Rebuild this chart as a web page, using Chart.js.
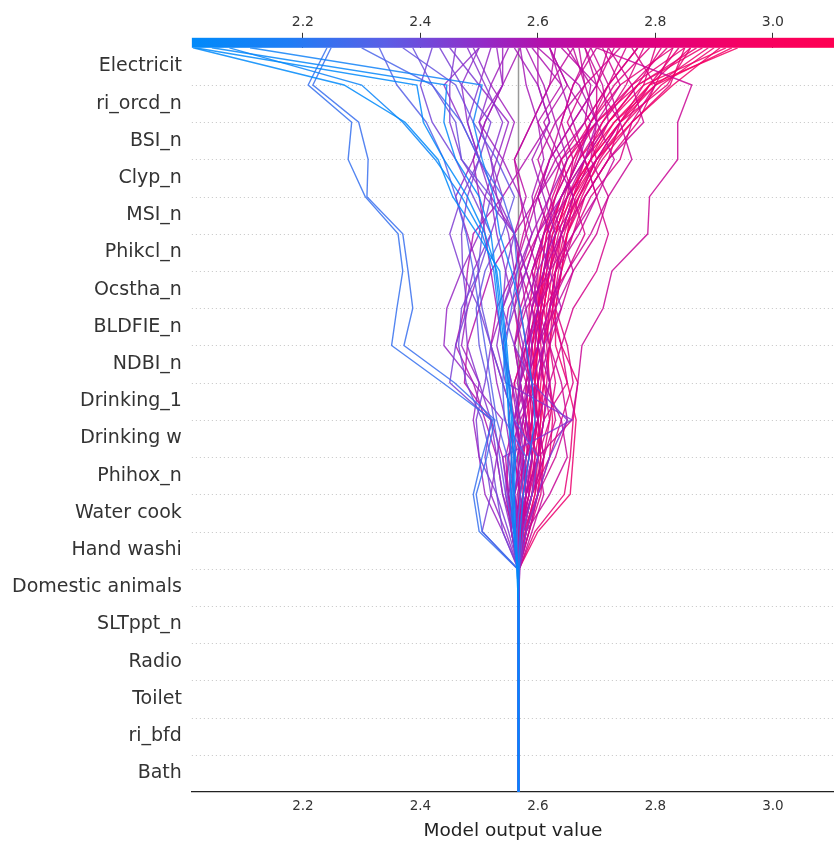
<!DOCTYPE html>
<html>
<head>
<meta charset="utf-8">
<script src="https://cdn.jsdelivr.net/npm/chart.js@4.4.1/dist/chart.umd.min.js"></script>
<style>
html, body { margin: 0; padding: 0; background: #fff; }
canvas { display: block; }
</style>
</head>
<body>
<canvas id="myChart" width="834" height="841"></canvas>
<script>
// feature rows, bottom row first
var features = ["Bath", "ri_bfd", "Toilet", "Radio", "SLTppt_n", "Domestic animals", "Hand washi",
  "Water cook", "Phihox_n", "Drinking w", "Drinking_1", "NDBI_n", "BLDFIE_n", "Ocstha_n",
  "Phikcl_n", "MSI_n", "Clyp_n", "BSI_n", "ri_orcd_n", "Electricit"];
var baseValue = 2.567;
var xTicks = [2.2, 2.4, 2.6, 2.8, 3.0];
var xMin = 2.011, xMax = 3.104;

// cumulative output at every row boundary: index 0 = base (bottom), 20 = final (top)
var paths = [
  [2.567,2.567,2.567,2.567,2.567,2.567,2.565,2.562,2.560,2.562,2.557,2.552,2.547,2.540,2.535,2.497,2.455,2.430,2.374,2.270,2.013],
  [2.567,2.567,2.567,2.567,2.567,2.567,2.566,2.560,2.556,2.558,2.555,2.550,2.545,2.538,2.530,2.510,2.480,2.440,2.405,2.394,2.016],
  [2.567,2.567,2.567,2.567,2.567,2.567,2.564,2.558,2.553,2.555,2.550,2.548,2.543,2.535,2.528,2.520,2.500,2.460,2.440,2.445,2.045],
  [2.567,2.567,2.567,2.567,2.567,2.567,2.566,2.562,2.558,2.560,2.552,2.546,2.540,2.532,2.525,2.505,2.470,2.425,2.370,2.300,2.075],
  [2.567,2.567,2.567,2.567,2.567,2.567,2.568,2.570,2.575,2.585,2.595,2.590,2.580,2.570,2.555,2.535,2.525,2.505,2.490,2.505,2.110],
  [2.567,2.567,2.567,2.567,2.567,2.567,2.565,2.500,2.490,2.505,2.523,2.438,2.351,2.360,2.370,2.362,2.306,2.277,2.283,2.209,2.241],
  [2.567,2.567,2.567,2.567,2.567,2.567,2.566,2.505,2.495,2.513,2.527,2.458,2.372,2.387,2.379,2.370,2.309,2.311,2.295,2.217,2.248],
  [2.567,2.567,2.567,2.567,2.567,2.567,2.567,2.565,2.570,2.580,2.543,2.540,2.545,2.555,2.565,2.560,2.540,2.500,2.470,2.420,2.300],
  [2.567,2.567,2.567,2.567,2.567,2.567,2.566,2.560,2.555,2.548,2.530,2.520,2.510,2.500,2.490,2.478,2.460,2.440,2.410,2.360,2.330],
  [2.567,2.567,2.567,2.567,2.567,2.567,2.568,2.575,2.590,2.600,2.560,2.540,2.520,2.505,2.498,2.505,2.520,2.470,2.460,2.420,2.387],
  [2.567,2.567,2.567,2.567,2.567,2.567,2.565,2.505,2.520,2.510,2.520,2.450,2.460,2.480,2.472,2.470,2.480,2.500,2.520,2.470,2.433],
  [2.567,2.567,2.567,2.567,2.567,2.567,2.567,2.540,2.530,2.520,2.505,2.478,2.465,2.470,2.500,2.520,2.490,2.460,2.420,2.400,2.420],
  [2.567,2.567,2.567,2.567,2.567,2.567,2.569,2.580,2.600,2.620,2.650,2.590,2.560,2.540,2.545,2.560,2.510,2.470,2.450,2.450,2.460],
  [2.567,2.567,2.567,2.567,2.567,2.567,2.566,2.555,2.540,2.530,2.520,2.500,2.480,2.475,2.490,2.520,2.540,2.520,2.540,2.510,2.480],
  [2.567,2.567,2.567,2.567,2.567,2.567,2.568,2.565,2.560,2.575,2.570,2.555,2.540,2.560,2.580,2.560,2.530,2.500,2.480,2.470,2.500],
  [2.567,2.567,2.567,2.567,2.567,2.567,2.567,2.545,2.520,2.530,2.540,2.490,2.440,2.445,2.470,2.500,2.510,2.530,2.550,2.500,2.520],
  [2.567,2.567,2.567,2.567,2.567,2.567,2.566,2.560,2.550,2.555,2.545,2.530,2.520,2.540,2.565,2.590,2.570,2.540,2.500,2.540,2.540],
  [2.567,2.567,2.567,2.567,2.567,2.567,2.568,2.570,2.560,2.550,2.560,2.570,2.585,2.600,2.580,2.560,2.520,2.540,2.560,2.520,2.550],
  [2.567,2.567,2.567,2.567,2.567,2.567,2.567,2.560,2.545,2.535,2.525,2.515,2.500,2.495,2.510,2.540,2.560,2.530,2.490,2.460,2.370],
  [2.567,2.567,2.567,2.567,2.567,2.567,2.567,2.565,2.580,2.572,2.560,2.550,2.540,2.530,2.520,2.510,2.500,2.490,2.510,2.540,2.570],
  [2.567,2.567,2.567,2.567,2.567,2.567,2.568,2.570,2.560,2.555,2.560,2.570,2.575,2.560,2.545,2.530,2.520,2.500,2.470,2.440,2.500],
  [2.567,2.567,2.567,2.567,2.567,2.567,2.567,2.555,2.548,2.540,2.658,2.545,2.530,2.540,2.560,2.550,2.530,2.520,2.500,2.520,2.490],
  [2.567,2.567,2.567,2.567,2.567,2.567,2.566,2.540,2.510,2.500,2.490,2.500,2.470,2.480,2.500,2.480,2.460,2.490,2.510,2.540,2.530],
  [2.567,2.567,2.567,2.567,2.567,2.567,2.567,2.550,2.530,2.500,2.495,2.510,2.520,2.500,2.470,2.450,2.470,2.500,2.480,2.500,2.450],
  [2.567,2.567,2.567,2.567,2.567,2.567,2.567,2.560,2.575,2.590,2.580,2.570,2.560,2.575,2.600,2.630,2.610,2.590,2.620,2.600,2.560],
  [2.567,2.567,2.567,2.567,2.567,2.567,2.568,2.575,2.570,2.565,2.575,2.585,2.590,2.580,2.570,2.590,2.620,2.650,2.630,2.610,2.580],
  [2.567,2.567,2.567,2.567,2.567,2.567,2.566,2.555,2.560,2.570,2.565,2.555,2.540,2.550,2.580,2.600,2.640,2.680,2.700,2.670,2.600],
  [2.567,2.567,2.567,2.567,2.567,2.567,2.567,2.565,2.580,2.600,2.610,2.620,2.600,2.590,2.610,2.640,2.660,2.630,2.600,2.640,2.620],
  [2.567,2.567,2.567,2.567,2.567,2.567,2.568,2.572,2.585,2.575,2.560,2.540,2.520,2.530,2.560,2.580,2.600,2.620,2.660,2.700,2.640],
  [2.567,2.567,2.567,2.567,2.567,2.567,2.567,2.560,2.550,2.545,2.560,2.580,2.600,2.620,2.640,2.620,2.600,2.630,2.680,2.690,2.650],
  [2.567,2.567,2.567,2.567,2.567,2.567,2.566,2.570,2.590,2.610,2.600,2.580,2.560,2.580,2.620,2.660,2.700,2.730,2.700,2.680,2.670],
  [2.567,2.567,2.567,2.567,2.567,2.567,2.569,2.590,2.610,2.600,2.580,2.570,2.590,2.610,2.590,2.610,2.650,2.680,2.720,2.710,2.680],
  [2.567,2.567,2.567,2.567,2.567,2.567,2.567,2.555,2.545,2.550,2.570,2.600,2.620,2.600,2.580,2.600,2.630,2.660,2.640,2.660,2.700],
  [2.567,2.567,2.567,2.567,2.567,2.567,2.568,2.575,2.600,2.630,2.650,2.640,2.620,2.640,2.660,2.700,2.720,2.690,2.700,2.740,2.710],
  [2.567,2.567,2.567,2.567,2.567,2.567,2.567,2.565,2.560,2.580,2.600,2.590,2.570,2.560,2.570,2.600,2.620,2.640,2.700,2.700,2.730],
  [2.567,2.567,2.567,2.567,2.567,2.567,2.566,2.560,2.570,2.560,2.550,2.560,2.580,2.610,2.650,2.680,2.660,2.640,2.680,2.720,2.750],
  [2.567,2.567,2.567,2.567,2.567,2.567,2.568,2.580,2.620,2.650,2.640,2.610,2.600,2.620,2.650,2.690,2.720,2.760,2.740,2.720,2.690],
  [2.567,2.567,2.567,2.567,2.567,2.567,2.567,2.568,2.585,2.600,2.658,2.668,2.675,2.711,2.726,2.787,2.790,2.838,2.838,2.862,2.700],
  [2.567,2.567,2.567,2.567,2.567,2.567,2.567,2.560,2.540,2.530,2.510,2.490,2.460,2.475,2.480,2.490,2.540,2.580,2.620,2.600,2.600],
  [2.567,2.567,2.567,2.567,2.567,2.567,2.566,2.560,2.550,2.540,2.520,2.475,2.480,2.500,2.520,2.560,2.600,2.640,2.610,2.650,2.620],
  [2.567,2.567,2.567,2.567,2.567,2.567,2.567,2.565,2.575,2.570,2.565,2.570,2.580,2.600,2.620,2.640,2.680,2.720,2.780,2.760,2.720],
  [2.567,2.567,2.567,2.567,2.567,2.567,2.568,2.575,2.590,2.610,2.630,2.620,2.640,2.660,2.700,2.720,2.700,2.680,2.650,2.680,2.740],
  [2.567,2.567,2.567,2.567,2.567,2.567,2.567,2.570,2.580,2.600,2.610,2.650,2.640,2.620,2.630,2.660,2.690,2.740,2.760,2.800,2.760],
  [2.567,2.567,2.567,2.567,2.567,2.567,2.566,2.562,2.568,2.585,2.600,2.590,2.580,2.590,2.600,2.580,2.570,2.560,2.590,2.620,2.660],
  [2.567,2.567,2.567,2.567,2.567,2.567,2.567,2.560,2.555,2.560,2.575,2.585,2.580,2.570,2.560,2.575,2.595,2.620,2.640,2.660,2.690],
  [2.567,2.567,2.567,2.567,2.567,2.567,2.567,2.575,2.560,2.570,2.590,2.600,2.610,2.600,2.590,2.610,2.640,2.670,2.690,2.650,2.620],
  [2.567,2.567,2.567,2.567,2.567,2.567,2.566,2.560,2.580,2.590,2.580,2.565,2.575,2.590,2.610,2.620,2.600,2.620,2.660,2.640,2.590],
  [2.567,2.567,2.567,2.567,2.567,2.567,2.568,2.585,2.600,2.590,2.575,2.580,2.600,2.630,2.660,2.640,2.620,2.600,2.630,2.680,2.660],
  [2.567,2.567,2.567,2.567,2.567,2.567,2.567,2.570,2.590,2.620,2.640,2.660,2.650,2.630,2.610,2.630,2.670,2.700,2.680,2.720,2.770],
  [2.567,2.567,2.567,2.567,2.567,2.567,2.566,2.555,2.550,2.565,2.580,2.570,2.560,2.570,2.590,2.620,2.650,2.700,2.740,2.700,2.720],
  [2.567,2.567,2.567,2.567,2.567,2.567,2.567,2.565,2.575,2.585,2.570,2.560,2.580,2.600,2.630,2.670,2.700,2.680,2.660,2.700,2.680],
  [2.567,2.567,2.567,2.567,2.567,2.567,2.568,2.580,2.570,2.560,2.565,2.590,2.610,2.640,2.620,2.600,2.590,2.610,2.600,2.580,2.570],
  [2.567,2.567,2.567,2.567,2.567,2.567,2.567,2.560,2.565,2.580,2.600,2.620,2.610,2.590,2.570,2.560,2.580,2.560,2.590,2.620,2.630],
  [2.567,2.567,2.567,2.567,2.567,2.567,2.567,2.575,2.590,2.600,2.610,2.600,2.590,2.600,2.610,2.620,2.640,2.680,2.730,2.790,2.940],
  [2.567,2.567,2.567,2.567,2.567,2.567,2.568,2.580,2.600,2.610,2.600,2.590,2.600,2.610,2.620,2.630,2.650,2.690,2.740,2.800,2.930],
  [2.567,2.567,2.567,2.567,2.567,2.567,2.566,2.570,2.585,2.590,2.585,2.580,2.585,2.595,2.605,2.615,2.640,2.670,2.720,2.780,2.920],
  [2.567,2.567,2.567,2.567,2.567,2.567,2.567,2.580,2.595,2.600,2.605,2.610,2.620,2.630,2.640,2.650,2.670,2.700,2.760,2.830,2.910],
  [2.567,2.567,2.567,2.567,2.567,2.567,2.567,2.565,2.575,2.585,2.590,2.595,2.600,2.605,2.610,2.625,2.660,2.700,2.750,2.810,2.900],
  [2.567,2.567,2.567,2.567,2.567,2.567,2.568,2.572,2.580,2.590,2.600,2.605,2.610,2.615,2.625,2.640,2.660,2.690,2.730,2.800,2.890],
  [2.567,2.567,2.567,2.567,2.567,2.567,2.568,2.600,2.655,2.660,2.665,2.650,2.630,2.630,2.640,2.650,2.660,2.690,2.720,2.770,2.880],
  [2.567,2.567,2.567,2.567,2.567,2.567,2.567,2.575,2.580,2.575,2.580,2.590,2.595,2.600,2.600,2.610,2.630,2.660,2.700,2.770,2.870],
  [2.567,2.567,2.567,2.567,2.567,2.567,2.566,2.560,2.570,2.580,2.590,2.595,2.590,2.600,2.615,2.630,2.650,2.690,2.740,2.820,2.860],
  [2.567,2.567,2.567,2.567,2.567,2.567,2.567,2.585,2.600,2.620,2.625,2.620,2.615,2.620,2.630,2.645,2.665,2.700,2.740,2.790,2.860],
  [2.567,2.567,2.567,2.567,2.567,2.567,2.567,2.578,2.595,2.605,2.600,2.595,2.600,2.610,2.620,2.640,2.670,2.710,2.760,2.825,2.850],
  [2.567,2.567,2.567,2.567,2.567,2.567,2.567,2.570,2.585,2.595,2.605,2.600,2.595,2.605,2.620,2.635,2.655,2.680,2.710,2.760,2.850],
  [2.567,2.567,2.567,2.567,2.567,2.567,2.568,2.595,2.645,2.655,2.660,2.668,2.640,2.625,2.635,2.650,2.675,2.705,2.750,2.790,2.840],
  [2.567,2.567,2.567,2.567,2.567,2.567,2.567,2.570,2.580,2.590,2.600,2.610,2.605,2.600,2.605,2.615,2.630,2.650,2.690,2.740,2.830],
  [2.567,2.567,2.567,2.567,2.567,2.567,2.566,2.575,2.590,2.600,2.610,2.615,2.620,2.625,2.630,2.650,2.680,2.720,2.770,2.800,2.830],
  [2.567,2.567,2.567,2.567,2.567,2.567,2.566,2.565,2.570,2.575,2.585,2.590,2.585,2.585,2.595,2.610,2.625,2.650,2.700,2.760,2.820],
  [2.567,2.567,2.567,2.567,2.567,2.567,2.567,2.580,2.600,2.605,2.595,2.600,2.610,2.620,2.630,2.640,2.660,2.680,2.720,2.770,2.810],
  [2.567,2.567,2.567,2.567,2.567,2.567,2.568,2.572,2.575,2.580,2.590,2.600,2.610,2.625,2.640,2.660,2.680,2.720,2.740,2.780,2.800],
  [2.567,2.567,2.567,2.567,2.567,2.567,2.567,2.585,2.605,2.610,2.620,2.630,2.620,2.610,2.620,2.630,2.650,2.660,2.690,2.730,2.790],
  [2.567,2.567,2.567,2.567,2.567,2.567,2.566,2.568,2.580,2.600,2.620,2.610,2.600,2.605,2.615,2.620,2.640,2.670,2.710,2.750,2.780],
  [2.567,2.567,2.567,2.567,2.567,2.567,2.567,2.575,2.590,2.595,2.590,2.585,2.590,2.600,2.610,2.625,2.645,2.665,2.690,2.720,2.770]
];

// shap-like red/blue colormap
var cmapStops = [
  [0.00, [0, 138, 250]],
  [0.15, [30, 125, 245]],
  [0.30, [90, 95, 230]],
  [0.45, [145, 45, 200]],
  [0.55, [180, 15, 170]],
  [0.70, [220, 0, 130]],
  [0.85, [245, 0, 100]],
  [1.00, [255, 0, 82]]
];

function cmap(t, alpha) {
  t = Math.max(0, Math.min(1, t));
  for (var k = 1; k < cmapStops.length; k++) {
    if (t <= cmapStops[k][0]) {
      var a = cmapStops[k - 1], b = cmapStops[k];
      var f = (t - a[0]) / (b[0] - a[0]);
      var c = a[1].map(function (v, j) { return Math.round(v + (b[1][j] - v) * f); });
      return "rgba(" + c[0] + "," + c[1] + "," + c[2] + "," + alpha + ")";
    }
  }
  return "rgba(255,0,82," + alpha + ")";
}

var datasets = paths.map(function (p) {
  var t = (p[p.length - 1] - xMin) / (xMax - xMin);
  return {
    data: p.map(function (v, i) { return { x: v, y: i }; }),
    borderColor: cmap(t, 0.85),
    borderWidth: 1.4,
    pointRadius: 0,
    showLine: true,
    fill: false
  };
});

var decor = {
  id: "decor",
  beforeDatasetsDraw: function (chart) {
    var ctx = chart.ctx, a = chart.chartArea, xs = chart.scales.x, ys = chart.scales.y;
    ctx.save();
    ctx.strokeStyle = "#c4c4c4";
    ctx.lineWidth = 1;
    ctx.setLineDash([1, 3]);
    for (var i = 1; i < features.length; i++) {
      var py = Math.round(ys.getPixelForValue(i)) + 0.5;
      ctx.beginPath();
      ctx.moveTo(a.left, py);
      ctx.lineTo(a.right, py);
      ctx.stroke();
    }
    ctx.setLineDash([]);
    ctx.strokeStyle = "#999999";
    ctx.lineWidth = 1.5;
    var bx = xs.getPixelForValue(baseValue);
    ctx.beginPath();
    ctx.moveTo(bx, a.top);
    ctx.lineTo(bx, a.bottom);
    ctx.stroke();
    ctx.restore();
  },
  afterDraw: function (chart) {
    // colour bar on top
    var ctx = chart.ctx, a = chart.chartArea;
    var g = ctx.createLinearGradient(a.left, 0, a.right, 0);
    cmapStops.forEach(function (s) { g.addColorStop(s[0], cmap(s[0], 1)); });
    ctx.save();
    ctx.fillStyle = g;
    ctx.fillRect(a.left, a.top - 10, a.right - a.left, 10);
    ctx.restore();
  }
};

Chart.defaults.font.family = "'DejaVu Sans', sans-serif";

new Chart("myChart", {
  type: "scatter",
  data: { datasets: datasets },
  plugins: [decor],
  options: {
    responsive: false,
    animation: false,
    devicePixelRatio: 1,
    layout: { padding: { top: 12, left: 2, right: 0, bottom: 0 } },
    plugins: { legend: { display: false }, tooltip: { enabled: false } },
    scales: {
      x: {
        type: "linear", position: "bottom", min: xMin, max: xMax,
        afterBuildTicks: function (s) { s.ticks = xTicks.map(function (v) { return { value: v }; }); },
        ticks: { callback: function (v) { return v.toFixed(1); }, color: "#333", font: { size: 13.5, lineHeight: 1 }, padding: 8 },
        grid: { display: false, drawTicks: false },
        border: { display: true, color: "#222", width: 1.2 },
        title: { display: true, text: "Model output value", color: "#222", font: { size: 18.5, lineHeight: 1 }, padding: { top: 0, bottom: 1 } }
      },
      xTop: {
        type: "linear", position: "top", min: xMin, max: xMax,
        afterBuildTicks: function (s) { s.ticks = xTicks.map(function (v) { return { value: v }; }); },
        ticks: { callback: function (v) { return v.toFixed(1); }, color: "#333", font: { size: 14 }, padding: 2 },
        grid: { drawOnChartArea: false, tickLength: 15, color: "#333" },
        border: { display: false }
      },
      y: {
        type: "linear", min: 0, max: 20,
        afterBuildTicks: function (s) { s.ticks = features.map(function (f, k) { return { value: k + 0.5 }; }); },
        ticks: { callback: function (v, i) { return features[i]; }, color: "#333", font: { size: 19 }, padding: 10, autoSkip: false },
        grid: { display: false, drawTicks: false },
        border: { display: false }
      }
    }
  }
});
</script>
</body>
</html>
